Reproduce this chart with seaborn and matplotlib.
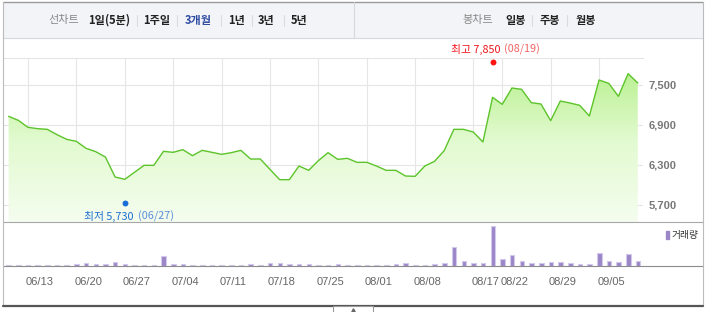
import numpy as np
import pandas as pd
import matplotlib
matplotlib.use("Agg")
import matplotlib.pyplot as plt
import seaborn as sns
from matplotlib.colors import LinearSegmentedColormap
from matplotlib.patches import Rectangle, Patch
import matplotlib.transforms as mtransforms

# ---------------- data ----------------
dates = ["06/09", "06/10", "06/13", "06/14", "06/15", "06/16", "06/17",
         "06/20", "06/21", "06/22", "06/23", "06/24",
         "06/27", "06/28", "06/29", "06/30", "07/01",
         "07/04", "07/05", "07/06", "07/07", "07/08",
         "07/11", "07/12", "07/13", "07/14", "07/15",
         "07/18", "07/19", "07/20", "07/21", "07/22",
         "07/25", "07/26", "07/27", "07/28", "07/29",
         "08/01", "08/02", "08/03", "08/04", "08/05",
         "08/08", "08/09", "08/10", "08/11", "08/12",
         "08/16", "08/17", "08/18", "08/19",
         "08/22", "08/23", "08/24", "08/25", "08/26",
         "08/29", "08/30", "08/31", "09/01", "09/02",
         "09/05", "09/06", "09/07", "09/08", "09/13"]

close = [7030, 6970, 6865, 6845, 6835, 6755, 6685, 6655, 6550, 6500,
         6420, 6120, 6085, 6190, 6295, 6295, 6505, 6490, 6530, 6440,
         6520, 6490, 6460, 6485, 6520, 6390, 6390, 6235, 6080, 6080,
         6285, 6220, 6365, 6485, 6385, 6400, 6340, 6340, 6285, 6220,
         6220, 6135, 6130, 6285, 6355, 6515, 6835, 6835, 6795, 6645,
         7315, 7210, 7455, 7435, 7235, 7215, 6965, 7260, 7230, 7195,
         7035, 7575, 7525, 7330, 7670, 7530]

volume = [39, 39, 39, 30, 30, 30, 39, 60, 81, 60,
          69, 120, 69, 39, 30, 30, 300, 60, 60, 39,
          30, 30, 30, 30, 30, 60, 30, 81, 90, 60,
          60, 60, 39, 30, 60, 21, 21, 21, 21, 39,
          60, 81, 30, 30, 60, 99, 570, 150, 99, 99,
          1200, 201, 330, 150, 99, 81, 111, 120, 81, 69,
          60, 381, 141, 129, 360, 150]

tick_dates = ["06/13", "06/20", "06/27", "07/04", "07/11", "07/18", "07/25",
              "08/01", "08/08", "08/17", "08/22", "08/29", "09/05"]
price_ticks = [5700, 6300, 6900, 7500]

high_value, high_date = 7850, "08/19"
low_value, low_date = 5730, "06/27"

left_menu = ["1일(5분)", "1주일", "3개월", "1년", "3년", "5년"]
right_menu = ["일봉", "주봉", "월봉"]

# ---------------- style ----------------
sns.set_theme(style="white")
plt.rcParams["font.family"] = ["Noto Sans CJK KR", "DejaVu Sans"]

W, H = 706, 312
fig = plt.figure(figsize=(W / 100, H / 100), dpi=100)
fig.patch.set_facecolor("white")


def rect(x0, y0, x1, y1):
    return [x0 / W, 1 - y1 / H, (x1 - x0) / W, (y1 - y0) / H]


df = pd.DataFrame({"idx": np.arange(len(dates)), "date": dates,
                   "close": close, "volume": volume})
tick_idx = [dates.index(d) for d in tick_dates]

line_color = "#5cc42a"
bar_color = "#9b86c8"
grid_color = "#e6e6e6"

# ---------------- price panel ----------------
axp = fig.add_axes(rect(3, 58, 643, 222))
XL = (-0.58, 65.54)
YL = (5445, 7905)
sns.lineplot(data=df, x="idx", y="close", ax=axp, color=line_color,
             lw=1.0, zorder=4)
fill = axp.fill_between(df["idx"], df["close"], YL[0], color="none", lw=0)
cmap = LinearSegmentedColormap.from_list("g", ["#f5fdef", "#e2fad0", "#b2ef86"])
grad = np.linspace(0, 1, 256).reshape(-1, 1)
im = axp.imshow(grad, extent=[XL[0], XL[1], YL[0], YL[1]], origin="lower",
                aspect="auto", cmap=cmap, zorder=2)
im.set_clip_path(fill.get_paths()[0], transform=axp.transData)
axp.set_xlim(*XL)
axp.set_ylim(*YL)
axp.set_xticks(tick_idx)
axp.set_xticklabels([])
axp.set_yticks(price_ticks)
axp.set_yticklabels([f"{v:,}" for v in price_ticks])
axp.yaxis.tick_right()
axp.tick_params(axis="both", length=0)
axp.tick_params(axis="y", pad=3.8, labelsize=8, labelcolor="#777777")
for lab in axp.get_yticklabels():
    lab.set_family("Liberation Sans")
    lab.set_fontweight("bold")
axp.grid(True, color=grid_color, lw=0.8, zorder=1)
axp.set_axisbelow(True)
axp.set_xlabel("")
axp.set_ylabel("")
for s in ["left", "right", "bottom"]:
    axp.spines[s].set_visible(False)
axp.spines["top"].set_color(grid_color)
axp.spines["top"].set_linewidth(0.8)
axp.patch.set_alpha(0)

# high / low markers
hi_i = dates.index(high_date)
lo_i = dates.index(low_date)
axp.scatter([hi_i], [high_value], s=18, color="#ff1414", zorder=6, clip_on=False, lw=0)
axp.scatter([lo_i], [low_value], s=18, color="#1a6ed6", zorder=6, clip_on=False, lw=0)
pt = 0.72
axp.annotate(f"최고 {high_value:,}", (hi_i, high_value), xytext=(8 * pt, 12 * pt),
             textcoords="offset points", ha="right", va="center",
             fontsize=7.8, color="#f0161e", annotation_clip=False)
axp.annotate(f"({high_date})", (hi_i, high_value), xytext=(11 * pt, 12 * pt),
             textcoords="offset points", ha="left", va="center",
             fontsize=7.8, color="#f06464", annotation_clip=False)
axp.annotate(f"최저 {low_value:,}", (lo_i, low_value), xytext=(9 * pt, -13 * pt),
             textcoords="offset points", ha="right", va="center",
             fontsize=7.8, color="#1a6ed0", annotation_clip=False)
axp.annotate(f"({low_date})", (lo_i, low_value), xytext=(13 * pt, -13 * pt),
             textcoords="offset points", ha="left", va="center",
             fontsize=7.8, color="#5a90d8", annotation_clip=False)

# ---------------- volume panel ----------------
axv = fig.add_axes(rect(3, 222, 703, 266))
sns.barplot(data=df, x="idx", y="volume", ax=axv, color=bar_color,
            saturation=1, width=0.47, native_scale=True, errorbar=None,
            edgecolor="#d3c9ec", linewidth=0.8, zorder=3)
axv.set_xlim(-0.58, 71.7)
axv.set_ylim(0, 1320)
axv.set_yticks([])
axv.set_xticks(tick_idx)
axv.set_xticklabels(tick_dates)
axv.set_xlabel("")
axv.set_ylabel("")
axv.tick_params(axis="x", length=2.2, width=0.8, color="#888888",
                direction="out", pad=6, labelsize=8, labelcolor="#666666")
offset = mtransforms.ScaledTranslation(-2 / 100, 0, fig.dpi_scale_trans)
for lab in axv.get_xticklabels():
    lab.set_family("Liberation Sans")
    lab.set_horizontalalignment("left")
    lab.set_transform(lab.get_transform() + offset)
for s in ["left", "right"]:
    axv.spines[s].set_visible(False)
axv.spines["top"].set_color("#a8a8a8")
axv.spines["top"].set_linewidth(0.8)
axv.spines["bottom"].set_color("#8c8c8c")
axv.spines["bottom"].set_linewidth(0.8)
axv.spines["bottom"].set_zorder(5)
axv.patch.set_alpha(0)
leg = axv.legend(handles=[Patch(color=bar_color)], labels=["거래량"],
                 loc="center left", bbox_to_anchor=((666 - 3) / 700, (266 - 235) / 44),
                 frameon=False, borderpad=0, borderaxespad=0,
                 handlelength=0.35, handleheight=0.85, handletextpad=0.25,
                 fontsize=7)
for t in leg.get_texts():
    t.set_color("#333333")

# ---------------- frame / header overlay ----------------
axo = fig.add_axes([0, 0, 1, 1], zorder=10)
axo.set_xlim(0, W)
axo.set_ylim(H, 0)
axo.axis("off")
axo.add_patch(Rectangle((3, 1.5), 700, 36.5, facecolor="#f3f4f7",
                        edgecolor="none", zorder=1))
axo.plot([3, 703], [1.5, 1.5], color="#9a9a9a", lw=1.0, zorder=3)
axo.plot([3, 703], [38, 38], color="#d6d8de", lw=0.8, zorder=3)
axo.plot([354, 354], [1.5, 38], color="#d6d8de", lw=0.8, zorder=3)
axo.plot([3, 3], [1.5, 306], color="#bcbcbc", lw=0.8, zorder=3)
axo.plot([703, 703], [1.5, 306], color="#bcbcbc", lw=0.8, zorder=3)
axo.plot([3, 703], [306, 306], color="#555555", lw=1.6, zorder=3)
axo.add_patch(Rectangle((333, 306), 40, 8, facecolor="white",
                        edgecolor="#999999", lw=0.8, zorder=4))
axo.plot([353], [310], marker="^", ms=2.5, color="#666666", zorder=5)

hy = 20.5
axo.text(48, hy, "선차트", fontsize=8, color="#888888", va="center", ha="left")
left_x = [88, 143, 185, 228, 258, 291]
for x, lab in zip(left_x, left_menu):
    col = "#2f4da3" if lab == "3개월" else "#222222"
    axo.text(x, hy, lab, fontsize=8, color=col, fontweight="bold",
             va="center", ha="left")
for x in [137, 177, 221, 252, 284]:
    axo.plot([x, x], [15, 26], color="#dcdcdc", lw=0.8)
axo.text(462, hy, "봉차트", fontsize=8, color="#888888", va="center", ha="left")
for x, lab in zip([505, 540, 576], right_menu):
    axo.text(x, hy, lab, fontsize=8, color="#222222", fontweight="bold",
             va="center", ha="left")
for x in [532, 567]:
    axo.plot([x, x], [15, 26], color="#dcdcdc", lw=0.8)

fig.savefig("out.png", dpi=100, facecolor="white")
